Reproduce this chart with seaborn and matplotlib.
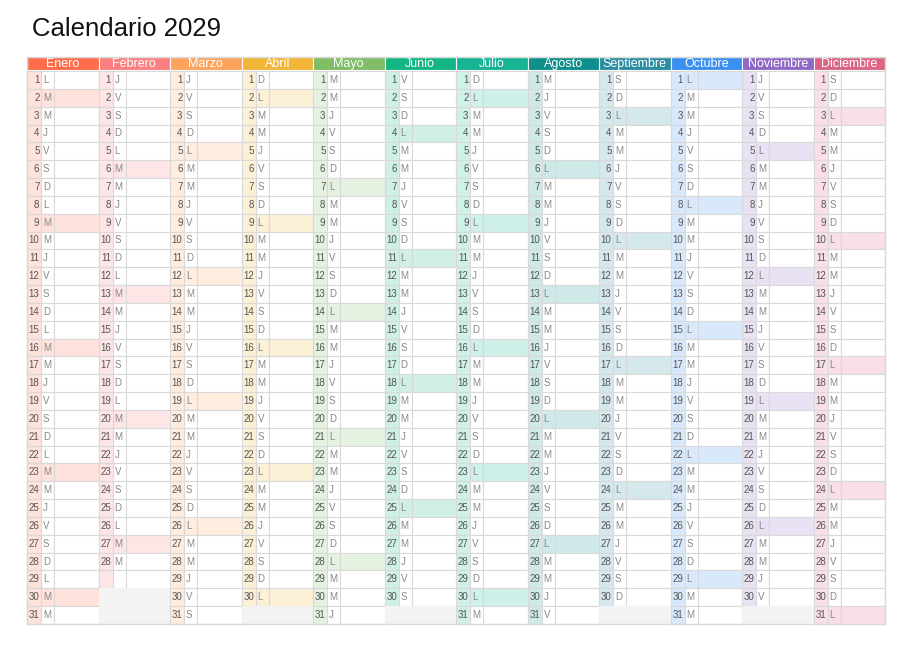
import seaborn as sns
import matplotlib.pyplot as plt
from matplotlib.patches import Rectangle
from matplotlib.colors import to_rgb
import datetime

sns.set_theme(style='white')
plt.rcParams['font.family'] = ['Liberation Sans', 'DejaVu Sans']

YEAR = 2029
months = ['Enero', 'Febrero', 'Marzo', 'Abril', 'Mayo', 'Junio', 'Julio',
          'Agosto', 'Septiembre', 'Octubre', 'Noviembre', 'Diciembre']
colors = ['#fe6d4b', '#fb7f80', '#fda35e', '#f2b535', '#7fbd67', '#12b683',
          '#16b394', '#0f8f8c', '#2b8da1', '#3a8ff0', '#9069c6', '#db6582']
day_counts = [31, 28, 31, 30, 31, 30, 31, 31, 30, 31, 30, 31]
# weekday highlighted in each month (0=lunes, 1=martes)
highlight = [1, 1, 0, 0, 0, 0, 0, 0, 0, 0, 0, 0]
letters = ['L', 'M', 'M', 'J', 'V', 'S', 'D']

W, H = 909, 645
fig = plt.figure(figsize=(9.09, 6.45), dpi=100)
ax = fig.add_axes([0, 0, 1, 1])
ax.set_xlim(0, W)
ax.set_ylim(H, 0)
ax.axis('off')

x0, top, col_w = 27, 57, 71.5
head_h, row_y0, row_h = 13, 71, 553 / 31
dw, lw_ = 14, 13
line = '#d9d9d9'


def tint(c, a):
    r = to_rgb(c)
    return tuple(1 - a * (1 - v) for v in r)


ax.text(32, 29, f'Calendario {YEAR}', fontsize=18.5, color='#111111', va='center')

for m, (name, c, nd, hl) in enumerate(zip(months, colors, day_counts, highlight)):
    mx = x0 + m * col_w
    ax.add_patch(Rectangle((mx, top), col_w, head_h, fc=c, ec='white', lw=0.8))
    ax.text(mx + col_w / 2, top + head_h / 2 + 0.5, name, color='white', fontsize=9,
            ha='center', va='center')
    light = tint(c, 0.2)
    for d in range(1, 32):
        y = row_y0 + (d - 1) * row_h
        if d > nd:
            if m == 1 and d == 29:
                ax.add_patch(Rectangle((mx, y), dw, row_h, fc=light, ec=line, lw=0.8))
                ax.add_patch(Rectangle((mx + dw, y), lw_, row_h, fc='white', ec=line, lw=0.8))
                ax.add_patch(Rectangle((mx + dw + lw_, y), col_w - dw - lw_, row_h,
                                       fc='white', ec=line, lw=0.8))
            else:
                ax.add_patch(Rectangle((mx, y), col_w, row_h, fc='#f3f3f3', ec='none'))
            continue
        wd = datetime.date(YEAR, m + 1, d).weekday()
        hot = wd == hl
        ax.add_patch(Rectangle((mx, y), dw, row_h, fc=light, ec=line, lw=0.8))
        ax.add_patch(Rectangle((mx + dw, y), lw_, row_h, fc=light if hot else 'white',
                               ec=line, lw=0.8))
        ax.add_patch(Rectangle((mx + dw + lw_, y), col_w - dw - lw_, row_h,
                               fc=light if hot else 'white', ec=line, lw=0.8))
        ax.text(mx + dw - 1.5, y + row_h / 2, str(d), fontsize=7, color='#555555',
                ha='right', va='center')
        ax.text(mx + dw + 2, y + row_h / 2, letters[wd], fontsize=7, color='#888888',
                ha='left', va='center')

ax.add_patch(Rectangle((x0, top), 12 * col_w, row_y0 + 31 * row_h - top,
                       fc='none', ec=line, lw=1))

fig.savefig('out.png', dpi=100)
